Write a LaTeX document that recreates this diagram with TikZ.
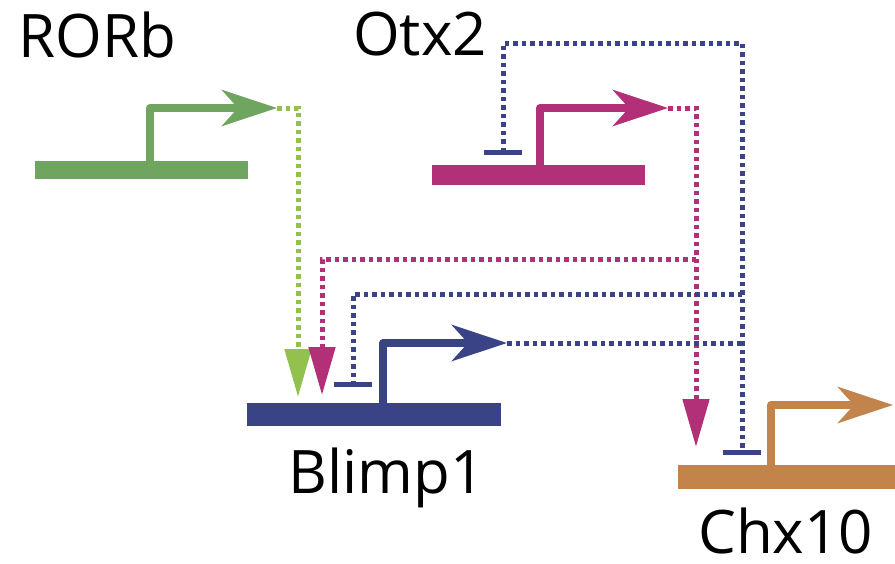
\documentclass[tikz,border=0pt]{standalone}
\usepackage{fontspec}
\setmainfont{Open Sans}
\usetikzlibrary{arrows.meta}
\definecolor{rorG}{HTML}{6FA55F}
\definecolor{rorL}{HTML}{93C150}
\definecolor{otxM}{HTML}{B23077}
\definecolor{blmB}{HTML}{3B4387}
\definecolor{chxO}{HTML}{C2844A}
\begin{document}
\begin{tikzpicture}[x=1pt,y=-1pt,
  genebar/.style={line width=#1, line cap=butt},
  promo/.style={line width=8pt, line join=round, line cap=butt, -{Stealth[length=55pt,width=36pt,inset=16pt]}},
  dotline/.style={line width=5pt, dash pattern=on 4.5pt off 4pt},
  actarrow/.style={dotline, -{Triangle[length=48pt,width=26pt]}},
  tbar/.style={line width=5pt, line cap=butt},
  label/.style={anchor=base west, inner sep=0pt, text depth=0pt, font=\fontsize{60}{60}\selectfont}]
\useasboundingbox (0,0) rectangle (895,563);
% labels
\node[label] (lR) at (18,57) {RORb};
\node[label] (lO) at (353,55) {Otx2};
\node[label] (lB) at (288,493) {Blimp1};
\node[label] (lC) at (698,553) {Chx10};
% gene coordinates
\coordinate (rL) at (35,170); \coordinate (rR) at (248,170);
\coordinate (rP) at (150,170); \coordinate (rT) at (150,108); \coordinate (rA) at (277,108);
\coordinate (oL) at (432,175); \coordinate (oR) at (645,175);
\coordinate (oP) at (540,175); \coordinate (oT) at (540,108); \coordinate (oA) at (668,108);
\coordinate (bL) at (247,414); \coordinate (bR) at (501,414);
\coordinate (bP) at (383,414); \coordinate (bT) at (383,343); \coordinate (bA) at (507,343);
\coordinate (cL) at (678,477); \coordinate (cR) at (895,477);
\coordinate (cP) at (771,477); \coordinate (cT) at (771,405); \coordinate (cA) at (893,405);
% genes
\draw[rorG, genebar=18pt] (rL) -- (rR);
\draw[rorG, promo] (rP) -- (rT) -- (rA);
\draw[otxM, genebar=20pt] (oL) -- (oR);
\draw[otxM, promo] (oP) -- (oT) -- (oA);
\draw[blmB, genebar=23pt] (bL) -- (bR);
\draw[blmB, promo] (bP) -- (bT) -- (bA);
\draw[chxO, genebar=24pt] (cL) -- (cR);
\draw[chxO, promo] (cP) -- (cT) -- (cA);
% target coordinates
\coordinate (gTip) at (298,397);
\coordinate (mTipB) at (322,395);
\coordinate (mTipC) at (696,447);
\coordinate (tO) at (503,152);
\coordinate (tB) at (353,384);
\coordinate (tC) at (742,452);
\coordinate (mJ) at (696,259);
\coordinate (bJ1) at (742,294);
\coordinate (bJ2) at (742,343);
\coordinate (bTop) at (742,43);
% RORb -> Blimp1
\draw[rorL, actarrow] (rA) -- (298,108) -- (gTip);
% Otx2 -> Chx10, Otx2 -> Blimp1
\draw[otxM, actarrow] (oA) -- (696,108) -- (mTipC);
\draw[otxM, actarrow] (mJ) -- (322,259) -- (mTipB);
% Blimp1 repression
\draw[blmB, dotline] (bA) -- (bJ2);
\draw[blmB, dotline] (tO) -- (503,43) -- (bTop) -- (tC);
\draw[blmB, dotline] (bJ1) -- (353,294) -- (tB);
\draw[blmB, tbar] ([xshift=-19pt]tO) -- ([xshift=19pt]tO);
\draw[blmB, tbar] ([xshift=-19pt]tB) -- ([xshift=19pt]tB);
\draw[blmB, tbar] ([xshift=-19pt]tC) -- ([xshift=19pt]tC);
\end{tikzpicture}
\end{document}
